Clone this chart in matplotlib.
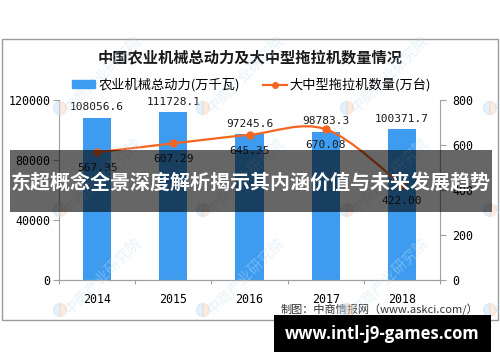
import numpy as np
import matplotlib
matplotlib.use('Agg')
import matplotlib.pyplot as plt
from matplotlib.path import Path
from matplotlib.patches import PathPatch, Rectangle, Wedge
from matplotlib.lines import Line2D

plt.rcParams['font.family'] = ['Noto Sans CJK SC', 'DejaVu Sans']

# data
years = ['2014', '2015', '2016', '2017', '2018']
power = [108056.6, 111728.1, 97245.6, 98783.3, 100371.7]      # 万千瓦
tractors = [567.95, 607.29, 645.35, 670.08, 422.00]            # 万台

bar_color = '#3d9cf0'
line_color = '#f36621'
axis_color = '#a0a0a0'
mono = 'DejaVu Sans Mono'


def smooth_path(xs, ys):
    # catmull-rom style bezier through the points (like a spreadsheet "smooth line")
    n = len(xs)
    verts = [(xs[0], ys[0])]
    codes = [Path.MOVETO]
    for i in range(n - 1):
        i0, i3 = max(i - 1, 0), min(i + 2, n - 1)
        c1 = (xs[i] + (xs[i + 1] - xs[i0]) / 6, ys[i] + (ys[i + 1] - ys[i0]) / 6)
        c2 = (xs[i + 1] - (xs[i3] - xs[i]) / 6, ys[i + 1] - (ys[i3] - ys[i]) / 6)
        verts += [c1, c2, (xs[i + 1], ys[i + 1])]
        codes += [Path.CURVE4] * 3
    return Path(verts, codes)


fig = plt.figure(figsize=(5, 3.62), dpi=100)
ax = fig.add_axes([0.118, 0.2265, 0.762, 0.4972])
ax2 = ax.twinx()

x = np.arange(len(years))
ax.bar(x, power, 0.37, color=bar_color, zorder=2)
for xi, v in zip(x, power):
    ax.annotate('%.1f' % v, (xi, v), xytext=(0, 4), textcoords='offset points',
                ha='center', va='bottom', fontsize=8, family=mono, color='#1a1a1a')

ax2.add_patch(PathPatch(smooth_path(list(x), tractors), fill=False,
                        edgecolor=line_color, lw=1.6, zorder=3))
ax2.plot(x, tractors, 'o', color=line_color, ms=5, zorder=4)
for xi, v in zip(x, tractors):
    ax2.annotate('%.2f' % v, (xi, v), xytext=(0, -8), textcoords='offset points',
                 ha='center', va='top', fontsize=8, family=mono, color='#1a1a1a')

ax.set_xlim(-0.5, 4.5)
ax.set_ylim(0, 120000)
ax2.set_ylim(0, 800)
ax.set_yticks([0, 40000, 80000, 120000])
ax2.set_yticks([0, 200, 400, 600, 800])
ax.set_xticks(np.arange(-0.5, 5, 1))
ax.set_xticklabels([])
ax.set_xticks(x, minor=True)
ax.set_xticklabels(years, minor=True, family=mono, fontsize=8.4)
ax.tick_params(axis='x', which='minor', length=0, pad=9)
ax.tick_params(axis='x', which='major', length=3, color=axis_color)
ax.tick_params(axis='y', length=4, pad=2, color=axis_color, labelsize=8.4)
ax2.tick_params(axis='y', length=4, pad=5, color=axis_color, labelsize=8.4)
for t in ax.get_yticklabels() + ax2.get_yticklabels():
    t.set_family(mono)
for a in (ax, ax2):
    a.spines['top'].set_visible(False)
    for s in ('left', 'right', 'bottom'):
        a.spines[s].set_color(axis_color)
ax2.spines['left'].set_visible(False)
ax.spines['right'].set_visible(False)
ax.patch.set_visible(False)

# outer frame, title, legend, source
fig.add_artist(Rectangle((0.004, 0.116), 0.992, 0.776, transform=fig.transFigure,
                         fill=False, edgecolor='#9a9a9a', lw=1))
fig.text(0.5, 0.8425, '中国农业机械总动力及大中型拖拉机数量情况', ha='center', va='center',
         fontsize=11, weight='bold', color='#1a1a1a')
handles = [Rectangle((0, 0), 1, 1, color=bar_color),
           Line2D([], [], color=line_color, lw=1.6, marker='o', ms=4)]
fig.legend(handles, ['农业机械总动力(万千瓦)', '大中型拖拉机数量(万台)'], loc='center',
           bbox_to_anchor=(0.503, 0.765), ncol=2, frameon=False, fontsize=9.5,
           handlelength=1.8, handleheight=0.5, handletextpad=0.2, columnspacing=1.8)
fig.text(0.759, 0.1436, '制图：中商情报网（www.askci.com/）', ha='center', va='center',
         fontsize=8, color='#333333')

# watermarks
for py in (108, 210, 310):
    for px in (-83, 60, 203, 347, 490):
        cx, cy = px / 100, (362 - py) / 100
        fig.add_artist(Wedge((cx, cy), 0.065, 90, 270, transform=fig.dpi_scale_trans,
                             color='#c4def4', alpha=0.45, zorder=5))
        fig.add_artist(Wedge((cx, cy), 0.065, -90, 90, transform=fig.dpi_scale_trans,
                             color='#f8d5c2', alpha=0.45, zorder=5))
        fig.text(cx + 0.07, cy - 0.02, '中商产业研究院', transform=fig.dpi_scale_trans,
                 rotation=45, rotation_mode='anchor', ha='left', va='center',
                 fontsize=10.5, color='#c4def4', alpha=0.4, zorder=5)

# overlay banners
fig.add_artist(Rectangle((0.02, 0.4144), 0.964, 0.1713, transform=fig.transFigure,
                         color='black', alpha=0.6, lw=0, zorder=10))
fig.text(0.502, 0.4945, '东超概念全景深度解析揭示其内涵价值与未来发展趋势', ha='center',
         va='center', fontsize=14.4, weight='bold', color='white', zorder=11)
fig.add_artist(Rectangle((0.548, 0.0276), 0.434, 0.102, transform=fig.transFigure,
                         color='black', lw=0, zorder=10))
fig.text(0.764, 0.077, 'www.intl-j9-games.com', ha='center', va='center',
         fontsize=12, weight='bold', family='Open Sans', color='white', zorder=11)

fig.savefig('out.png', dpi=100)
